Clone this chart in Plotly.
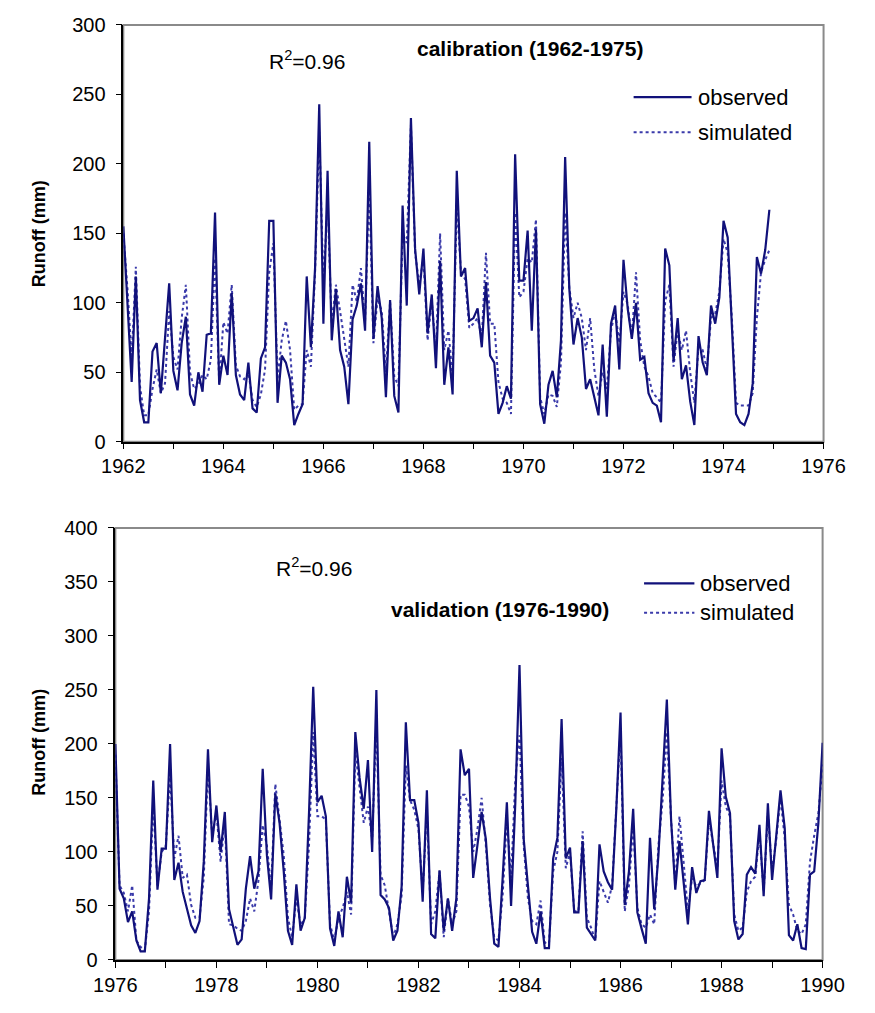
import plotly.graph_objects as go

# ---------------- data (monthly runoff, mm) ----------------
cal_start_year = 1962
cal_observed = [155, 100, 43, 119, 30, 14, 14, 65, 71, 35, 75, 114,
                51, 37, 71, 90, 34, 26, 50, 36, 77, 78, 165, 41,
                62, 48, 107, 48, 34, 30, 57, 24, 21, 60, 68, 159,
                159, 28, 62, 57, 45, 12, 20, 27, 119, 68, 125, 243,
                85, 195, 73, 110, 66, 54, 27, 88, 98, 114, 80, 216,
                74, 112, 89, 32, 102, 33, 21, 170, 98, 233, 139, 106,
                139, 78, 106, 53, 130, 41, 68, 34, 195, 119, 125, 87,
                89, 96, 68, 115, 62, 57, 20, 28, 40, 31, 207, 116,
                116, 152, 80, 153, 27, 13, 41, 51, 32, 73, 205, 110,
                70, 89, 75, 38, 45, 33, 19, 70, 18, 85, 98, 52,
                131, 96, 74, 100, 59, 61, 35, 28, 26, 14, 139, 127,
                58, 89, 45, 55, 29, 12, 76, 57, 48, 98, 85, 104,
                159, 147, 85, 20, 14, 12, 20, 42, 133, 121, 138, 167]
cal_simulated = [150, 110, 60, 126, 40, 19, 19, 38, 52, 35, 42, 94,
                 61, 52, 89, 113, 50, 38, 41, 48, 45, 59, 132, 42,
                 86, 78, 113, 55, 47, 45, 50, 30, 25, 34, 52, 122,
                 143, 45, 73, 87, 66, 23, 26, 27, 66, 54, 122, 223,
                 113, 172, 85, 113, 94, 73, 54, 113, 101, 125, 87, 183,
                 71, 103, 94, 50, 101, 47, 40, 150, 143, 228, 136, 113,
                 132, 73, 101, 66, 150, 66, 80, 47, 172, 122, 117, 82,
                 85, 89, 75, 136, 85, 85, 43, 31, 28, 20, 165, 104,
                 108, 132, 129, 160, 32, 20, 34, 33, 25, 57, 165, 111,
                 89, 100, 89, 66, 89, 52, 33, 50, 38, 80, 94, 71,
                 108, 99, 75, 122, 73, 54, 47, 35, 32, 28, 101, 113,
                 54, 80, 66, 80, 50, 28, 68, 66, 52, 89, 92, 108,
                 146, 136, 89, 28, 26, 26, 26, 35, 89, 122, 131, 138]

val_start_year = 1976
val_observed = [200, 66, 57, 35, 45, 18, 8, 8, 57, 166, 65, 103,
                103, 200, 74, 90, 63, 48, 32, 25, 36, 91, 195, 109,
                143, 100, 137, 47, 31, 14, 19, 66, 96, 66, 82, 177,
                97, 56, 154, 127, 82, 27, 14, 70, 27, 39, 136, 253,
                146, 152, 133, 29, 13, 45, 21, 77, 53, 211, 169, 140,
                185, 100, 250, 60, 56, 48, 18, 27, 68, 220, 148, 148,
                127, 54, 157, 24, 20, 83, 27, 57, 27, 57, 195, 171,
                177, 76, 106, 137, 112, 57, 15, 12, 76, 146, 50, 145,
                273, 112, 69, 26, 15, 45, 11, 11, 94, 113, 223, 94,
                104, 44, 44, 110, 30, 24, 18, 107, 82, 72, 65, 140,
                229, 51, 82, 140, 44, 29, 15, 113, 47, 97, 166, 241,
                130, 65, 110, 72, 33, 86, 62, 73, 74, 138, 107, 76,
                196, 151, 136, 36, 19, 24, 79, 86, 80, 125, 59, 145,
                74, 115, 157, 122, 23, 18, 33, 11, 10, 79, 82, 127,
                201]
val_simulated = [190, 69, 62, 45, 69, 18, 12, 9, 45, 145, 69, 100,
                 106, 172, 94, 115, 76, 79, 51, 39, 39, 76, 178, 115,
                 136, 91, 127, 33, 32, 29, 27, 36, 57, 45, 74, 125,
                 106, 66, 163, 127, 97, 39, 21, 57, 32, 39, 106, 211,
                 133, 133, 130, 33, 18, 39, 48, 63, 42, 193, 157, 127,
                 142, 112, 220, 79, 69, 45, 21, 33, 60, 180, 148, 139,
                 121, 63, 139, 33, 45, 82, 21, 57, 33, 45, 153, 153,
                 142, 100, 121, 150, 106, 51, 21, 18, 60, 130, 76, 166,
                 208, 106, 57, 36, 33, 55, 16, 15, 82, 100, 187, 85,
                 100, 45, 45, 119, 39, 30, 18, 73, 62, 53, 69, 136,
                 214, 45, 69, 124, 48, 33, 30, 42, 33, 106, 148, 211,
                 130, 70, 133, 90, 45, 76, 68, 71, 74, 130, 106, 85,
                 166, 142, 133, 42, 27, 30, 63, 73, 77, 118, 63, 136,
                 82, 112, 151, 112, 51, 42, 27, 24, 33, 91, 115, 136,
                 181]

cal_x = [cal_start_year + m / 12 for m in range(len(cal_observed))]
val_x = [val_start_year + m / 12 for m in range(len(val_observed))]

OBS_COLOR = "#11117a"
SIM_COLOR = "#3a3aaa"
FONT = "Liberation Sans, Arial, sans-serif"
W, H = 875, 1013


def px(x):
    return x / W


def py(y):
    return 1 - y / H


fig = go.Figure()
fig.add_trace(go.Scatter(x=cal_x, y=cal_simulated, mode="lines", name="simulated",
                         line=dict(color=SIM_COLOR, width=2, dash="3px,3px"),
                         xaxis="x", yaxis="y", showlegend=False))
fig.add_trace(go.Scatter(x=cal_x, y=cal_observed, mode="lines", name="observed",
                         line=dict(color=OBS_COLOR, width=2.2),
                         xaxis="x", yaxis="y", showlegend=False))
fig.add_trace(go.Scatter(x=val_x, y=val_simulated, mode="lines", name="simulated",
                         line=dict(color=SIM_COLOR, width=2, dash="3px,3px"),
                         xaxis="x2", yaxis="y2", showlegend=False))
fig.add_trace(go.Scatter(x=val_x, y=val_observed, mode="lines", name="observed",
                         line=dict(color=OBS_COLOR, width=2.2),
                         xaxis="x2", yaxis="y2", showlegend=False))

tickfont = dict(family=FONT, size=20, color="black")
common_x = dict(showgrid=False, zeroline=False, showline=True, linecolor="black",
                linewidth=1.5, ticks="outside", ticklen=6, tickcolor="black",
                tickfont=tickfont, dtick=2,
                minor=dict(dtick=1, ticks="outside", ticklen=6, tickcolor="black"))
common_y = dict(showgrid=False, zeroline=False, showline=True, linecolor="black",
                linewidth=1.5, ticks="outside", ticklen=6, tickcolor="black",
                tickfont=tickfont, ticklabelstandoff=6)

fig.update_layout(
    width=W, height=H,
    margin=dict(l=0, r=0, t=0, b=0),
    paper_bgcolor="white", plot_bgcolor="white",
    xaxis=dict(domain=[px(106.7), px(844)], range=[1962, 1976], tick0=1962,
               anchor="y", **common_x),
    yaxis=dict(domain=[py(440.3), py(14.3)], range=[0, 300], dtick=50,
               anchor="x", **common_y),
    xaxis2=dict(domain=[px(98.3), px(843)], range=[1976, 1990], tick0=1976,
                anchor="y2", **common_x),
    yaxis2=dict(domain=[py(970), py(528.4)], range=[0, 400], dtick=50,
                anchor="x2", **common_y),
)

shapes = []
for xr, yr in (("x domain", "y domain"), ("x2 domain", "y2 domain")):
    shapes.append(dict(type="rect", xref=xr, yref=yr, x0=0, x1=1, y0=0, y1=1,
                       line=dict(color="#8a8a8a", width=2), layer="below"))

# manual legends
legend_specs = [
    (644, 705, 88, 124, 710),
    (655, 708, 585, 615, 712),
]
annotations = []
for x0, x1, y_obs, y_sim, xt in legend_specs:
    shapes.append(dict(type="line", xref="paper", yref="paper",
                       x0=px(x0), x1=px(x1), y0=py(y_obs), y1=py(y_obs),
                       line=dict(color=OBS_COLOR, width=2.2)))
    shapes.append(dict(type="line", xref="paper", yref="paper",
                       x0=px(x0), x1=px(x1), y0=py(y_sim), y1=py(y_sim),
                       line=dict(color=SIM_COLOR, width=2, dash="3px,3px")))
    annotations.append(dict(text="observed", x=px(xt), y=py(y_obs), xref="paper",
                            yref="paper", xanchor="left", yanchor="middle",
                            showarrow=False, font=dict(family=FONT, size=22, color="black")))
    annotations.append(dict(text="simulated", x=px(xt), y=py(y_sim), xref="paper",
                            yref="paper", xanchor="left", yanchor="middle",
                            showarrow=False, font=dict(family=FONT, size=22, color="black")))

text_specs = [
    ("<b>calibration (1962-1975)</b>", 535, 38),
    ("R<sup>2</sup>=0.96", 300, 50),
    ("R<sup>2</sup>=0.96", 307, 568),
    ("<b>validation (1976-1990)</b>", 503, 612),
]
for t, x, y in text_specs:
    annotations.append(dict(text=t, x=px(x), y=py(y), xref="paper", yref="paper",
                            xanchor="center", yanchor="middle", showarrow=False,
                            font=dict(family=FONT, size=21, color="black")))

for y in (228, 748):
    annotations.append(dict(text="<b>Runoff (mm)</b>", x=px(18), y=py(y),
                            xref="paper", yref="paper", textangle=-90,
                            xanchor="center", yanchor="middle", showarrow=False,
                            font=dict(family=FONT, size=18, color="black")))

fig.update_layout(shapes=shapes, annotations=annotations)
fig.write_html("out.html")
